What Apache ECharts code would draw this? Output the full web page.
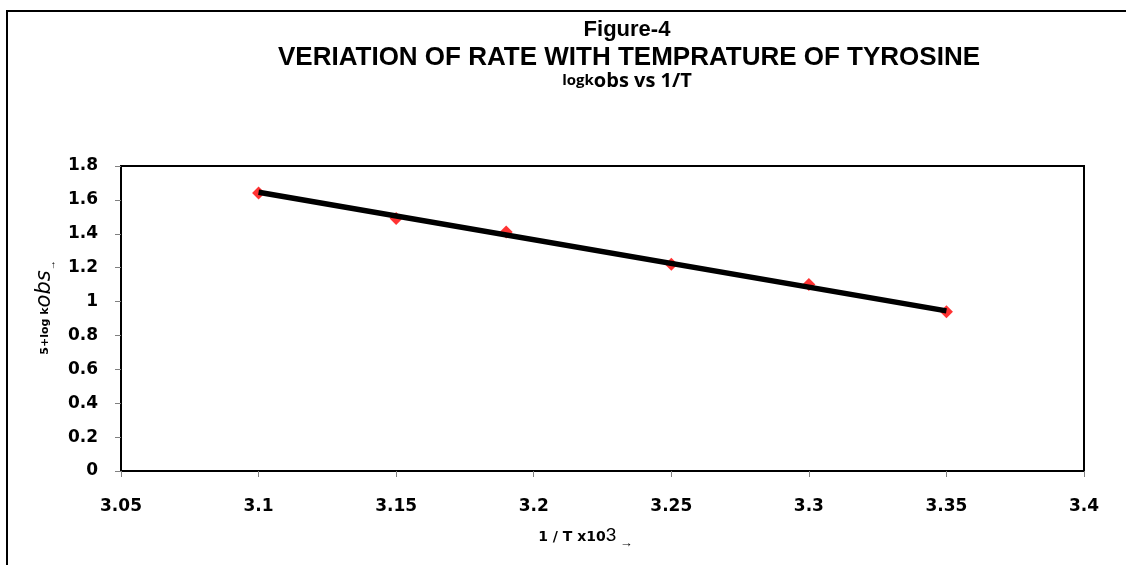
<!DOCTYPE html>
<html>
<head>
<meta charset="utf-8">
<script src="https://cdn.jsdelivr.net/npm/echarts@6/dist/echarts.min.js"></script>
<style>
html,body{margin:0;padding:0;background:#fff;}
#chart{width:1126px;height:565px;}
</style>
</head>
<body>
<div id="chart"></div>
<script>
// Data
const invT = [3.1, 3.15, 3.19, 3.25, 3.3, 3.35];
const logK = [1.64, 1.49, 1.41, 1.22, 1.10, 0.94];
// Straight-line fit drawn through the points (end points)
const fitX = [3.1, 3.35];
const fitY = [1.645, 0.945];

const xTicks = [3.05, 3.1, 3.15, 3.2, 3.25, 3.3, 3.35, 3.4];
const yTicks = [0, 0.2, 0.4, 0.6, 0.8, 1, 1.2, 1.4, 1.6, 1.8];

const titleMain = 'Figure-4';
const titleSub = 'VERIATION OF RATE WITH TEMPRATURE OF TYROSINE';
const titleSub2a = 'logk';
const titleSub2b = 'obs vs 1/T';

const chart = echarts.init(document.getElementById('chart'), null, {renderer: 'canvas'});

const pts = invT.map((x, i) => [x, logK[i]]);
const fit = fitX.map((x, i) => [x, fitY[i]]);

const tickFont = 'DejaVu Sans, Liberation Sans, Arial';

chart.setOption({
  backgroundColor: '#ffffff',
  animation: false,
  graphic: [
    {type: 'rect', shape: {x: 7, y: 11, width: 1200, height: 600},
     style: {fill: 'none', stroke: '#000', lineWidth: 2}, silent: true, z: 100}
  ],
  title: [
    {text: titleMain, left: 622, top: 14, textAlign: 'center',
     textStyle: {fontFamily: 'Liberation Sans, Arial', fontWeight: 'bold', fontSize: 22, color: '#000'}},
    {text: titleSub, left: 624, top: 40, textAlign: 'center',
     textStyle: {fontFamily: 'Liberation Sans, Arial', fontWeight: 'bold', fontSize: 26, color: '#000'}},
    {text: '{a|' + titleSub2a + '}{b|' + titleSub2b + '}', left: 622, top: 66, textAlign: 'center',
     textStyle: {
       rich: {
         a: {fontFamily: 'Open Sans, sans-serif', fontWeight: 'bold', fontSize: 15, color: '#000', verticalAlign: 'bottom', padding: [0,0,3,0]},
         b: {fontFamily: 'Open Sans, sans-serif', fontWeight: 'bold', fontSize: 20, color: '#000', verticalAlign: 'bottom'}
       }
     }}
  ],
  grid: {left: 121, right: 42, top: 166, bottom: 94, show: true, borderColor: '#000', borderWidth: 2, containLabel: false},
  xAxis: {
    type: 'value', min: 3.05, max: 3.4, interval: 0.05,
    name: '{a|1 / T x10}{b|3}{c| →}', nameLocation: 'middle', nameGap: 55,
    nameTextStyle: {
      padding: [0, 34, 0, 0],
      rich: {
        a: {fontFamily: tickFont, fontWeight: 'bold', fontSize: 14, color: '#000', verticalAlign: 'bottom', padding: [0,0,1,0]},
        b: {fontFamily: 'Liberation Sans, Arial', fontSize: 19, color: '#000', verticalAlign: 'bottom'},
        c: {fontFamily: 'Liberation Sans, Arial', fontSize: 13, color: '#000', verticalAlign: 'bottom', padding: [0,0,-5,0]}
      }
    },
    axisLine: {show: true, lineStyle: {color: '#000', width: 2}},
    axisTick: {show: true, length: 6, inside: false, lineStyle: {color: '#808080', width: 1}},
    splitLine: {show: false},
    axisLabel: {
      margin: 27, color: '#000', fontFamily: tickFont, fontWeight: 'bold', fontSize: 17,
      formatter: v => String(parseFloat(v.toFixed(2)))
    }
  },
  yAxis: {
    type: 'value', min: 0, max: 1.8, interval: 0.2,
    name: '{a|5+log k}{b|obs}{c|→}', nameLocation: 'middle', nameGap: 62, nameRotate: 90,
    nameTextStyle: {
      padding: [0, 0, 0, 22],
      rich: {
        a: {fontFamily: tickFont, fontWeight: 'bold', fontSize: 11, color: '#000', verticalAlign: 'bottom', padding: [0,0,4,0]},
        b: {fontFamily: 'DejaVu Sans, Liberation Sans', fontStyle: 'italic', fontSize: 21, color: '#000', verticalAlign: 'bottom'},
        c: {fontFamily: 'Liberation Sans, Arial', fontSize: 10, color: '#000', verticalAlign: 'bottom', padding: [0,0,-2,0]}
      }
    },
    axisLine: {show: true, lineStyle: {color: '#000', width: 2}},
    axisTick: {show: true, length: 6, inside: false, lineStyle: {color: '#808080', width: 1}},
    splitLine: {show: false},
    axisLabel: {
      margin: 23, color: '#000', fontFamily: tickFont, fontWeight: 'bold', fontSize: 17,
      formatter: v => String(parseFloat(v.toFixed(1)))
    }
  },
  series: [
    {
      type: 'scatter', data: pts, symbol: 'diamond', symbolSize: 13,
      itemStyle: {color: '#ff0000'}, z: 2
    },
    {
      type: 'line', data: fit, showSymbol: false, symbol: 'none',
      lineStyle: {color: '#000', width: 5.5}, z: 3
    }
  ]
});
</script>
</body>
</html>
